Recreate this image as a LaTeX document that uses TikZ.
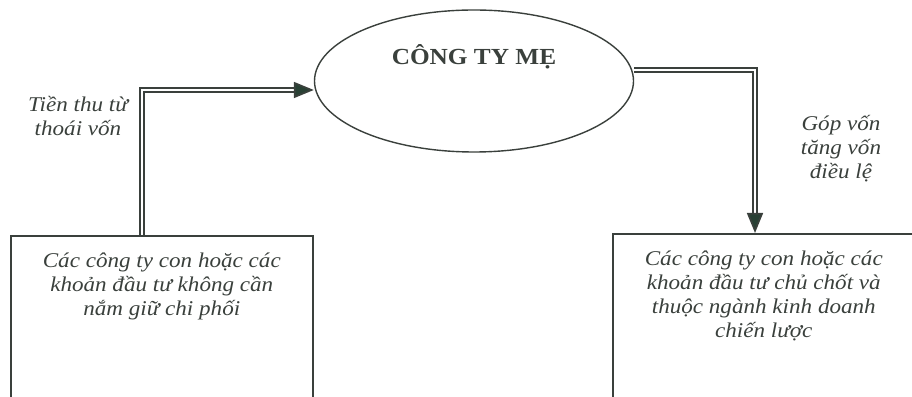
\documentclass[tikz,border=0pt]{standalone}
\usepackage{fontspec}
\setmainfont{Liberation Serif}[FakeStretch=1.1]
\usetikzlibrary{positioning,arrows.meta,shapes.geometric}
\definecolor{inkgray}{RGB}{58,64,60}
\definecolor{tipgreen}{RGB}{40,64,52}

\begin{document}
\begin{tikzpicture}[x=1pt,y=1pt,
    every node/.style={text=inkgray, font=\fontsize{21}{24}\selectfont},
    unitbox/.style={draw=inkgray, line width=1.6pt, minimum width=302pt, minimum height=175pt, anchor=north west, inner sep=0pt},
    flowline/.style={draw=inkgray, line width=1.7pt, double=white, double distance=1.8pt,
        -{Triangle[length=20pt,width=16pt,fill=tipgreen]}}]
    \useasboundingbox (0,0) rectangle (912,396);
    % cong ty me
    \node[ellipse, draw=inkgray, line width=1.4pt, minimum width=319pt, minimum height=142pt,
        label={[yshift=24pt, font=\fontsize{23}{26}\selectfont\bfseries]center:CÔNG TY MẸ}] (mother) at (474,315) {};
    % hai khoi cong ty con
    \node[unitbox, label={[anchor=north, yshift=-14pt, align=center]north:\itshape Các công ty con hoặc các\\\itshape khoản đầu tư không cần\\\itshape nắm giữ chi phối}] (lbox) at (10,161) {};
    \node[unitbox, label={[anchor=north, yshift=-14pt, align=center]north:\itshape Các công ty con hoặc các\\\itshape khoản đầu tư chủ chốt và\\\itshape thuộc ngành kinh doanh\\\itshape chiến lược}] (rbox) at (612,163) {};
    % dong tien
    \coordinate (lturn) at (142,306);
    \coordinate (rturn) at (755,326);
    \draw[flowline] (lbox.north -| lturn) -- (lturn) -- (lturn -| mother.west);
    \draw[flowline] (rturn -| mother.east) -- (rturn) -- (rturn |- rbox.north);
    \node[align=center, font=\fontsize{21}{24}\selectfont\itshape] (outlbl) at (78,280) {Tiền thu từ\\thoái vốn};
    \node[align=center, font=\fontsize{21}{24}\selectfont\itshape] (inlbl) at (841,247) {Góp vốn\\tăng vốn\\điều lệ};
\end{tikzpicture}
\end{document}
